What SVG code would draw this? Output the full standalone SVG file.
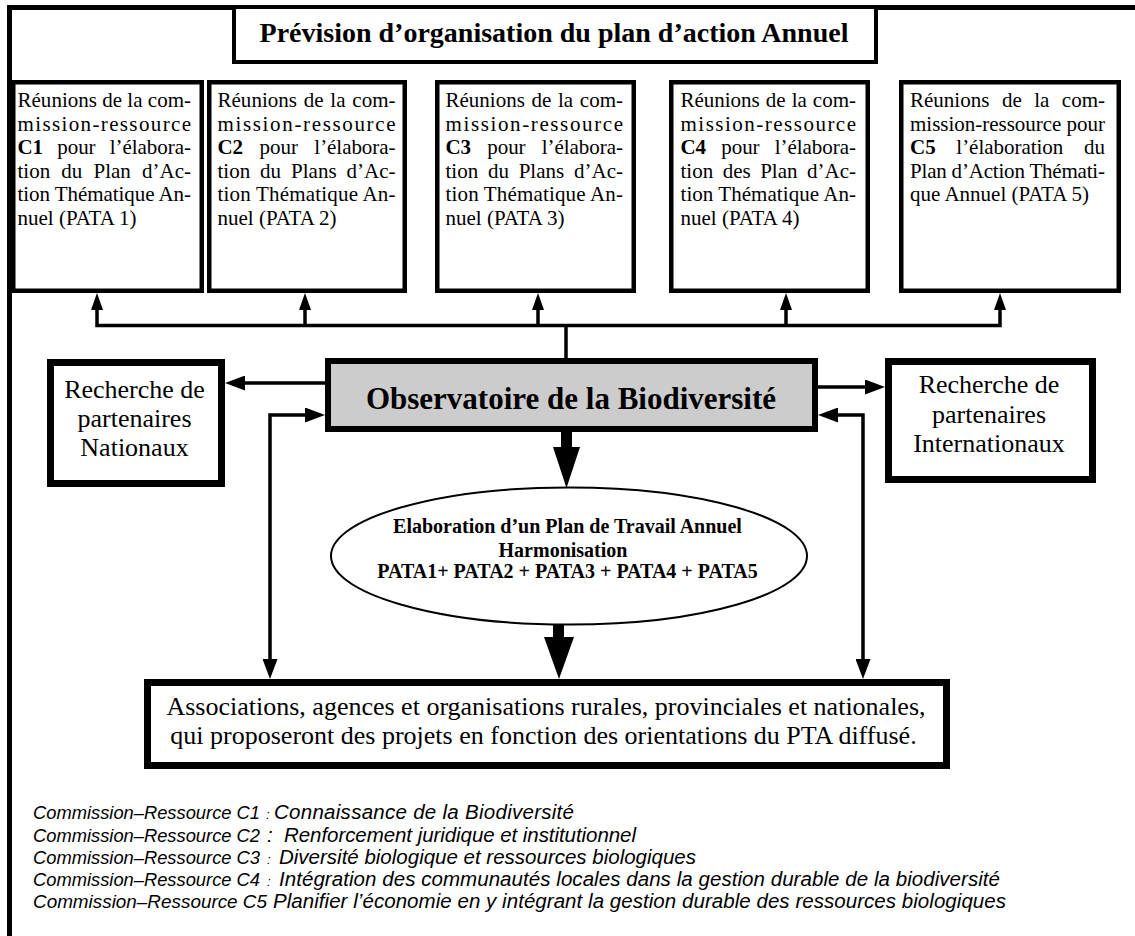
<svg xmlns="http://www.w3.org/2000/svg" width="1135" height="936" viewBox="0 0 1135 936">
<style>
.box{fill:#fff;stroke:#000;stroke-width:4.5}
.tbox{fill:#fff;stroke:#000;stroke-width:7}
.t{font-family:"Liberation Serif","Times New Roman",serif;fill:#000}
.bt{font-size:21px}
.b{font-weight:bold}
.conn{fill:none;stroke:#000;stroke-width:3.5;stroke-linejoin:miter}
.leg{font-family:"Liberation Sans",Arial,sans-serif;font-style:italic;fill:#000}
.pre{font-size:18.5px}
.rest{font-size:20.5px}
</style>
<defs>
<marker id="ah" viewBox="0 0 17 12" refX="2" refY="6" markerWidth="17" markerHeight="12" markerUnits="userSpaceOnUse" orient="auto-start-reverse"><path d="M0,0L17,6L0,12z" fill="#000"/></marker>
<marker id="ahL" viewBox="0 0 20 15" refX="2" refY="7.5" markerWidth="20" markerHeight="15" markerUnits="userSpaceOnUse" orient="auto-start-reverse"><path d="M0,0L20,7.5L0,15z" fill="#000"/></marker>
</defs>

<g id="frame">
<line x1="9.5" y1="5" x2="9.5" y2="936" stroke="#000" stroke-width="5"/>
<line x1="7" y1="7.5" x2="1135" y2="7.5" stroke="#000" stroke-width="5"/>
</g>

<g id="title">
<rect x="234" y="7" width="642" height="55" fill="#fff" stroke="#000" stroke-width="4"/>
<text class="t b" x="554" y="42" font-size="28" text-anchor="middle">Prévision d’organisation du plan d’action Annuel</text>
</g>

<g id="box1">
<rect class="box" x="13.25" y="82.25" width="188.5" height="208.5"/>
<g class="t bt">
<text x="17.5" y="107" textLength="173.5" lengthAdjust="spacing">Réunions de la com-</text>
<text x="17.5" y="130.5" textLength="173.5" lengthAdjust="spacing">mission-ressource</text>
<text x="17.5" y="154" textLength="173.5" lengthAdjust="spacing" word-spacing="9"><tspan class="b">C1</tspan> pour l’élabora-</text>
<text x="17.5" y="177.5" textLength="173.5" lengthAdjust="spacing" word-spacing="5.8">tion du Plan d’Ac-</text>
<text x="17.5" y="201" textLength="173.5" lengthAdjust="spacing">tion Thématique An-</text>
<text x="17.5" y="224.5">nuel (PATA 1)</text>
</g>
</g>

<g id="box2">
<rect class="box" x="209.25" y="82.25" width="195.5" height="208.5"/>
<g class="t bt">
<text x="217.5" y="107" textLength="178" lengthAdjust="spacing" word-spacing="1.5">Réunions de la com-</text>
<text x="217.5" y="130.5" textLength="178" lengthAdjust="spacing">mission-ressource</text>
<text x="217.5" y="154" textLength="178" lengthAdjust="spacing" word-spacing="11.3"><tspan class="b">C2</tspan> pour l’élabora-</text>
<text x="217.5" y="177.5" textLength="178" lengthAdjust="spacing" word-spacing="4.6">tion du Plans d’Ac-</text>
<text x="217.5" y="201" textLength="178" lengthAdjust="spacing">tion Thématique An-</text>
<text x="217.5" y="224.5">nuel (PATA 2)</text>
</g>
</g>

<g id="box3">
<rect class="box" x="437.25" y="82.25" width="196.5" height="208.5"/>
<g class="t bt">
<text x="445.5" y="107" textLength="177.5" lengthAdjust="spacing" word-spacing="1.4">Réunions de la com-</text>
<text x="445.5" y="130.5" textLength="177.5" lengthAdjust="spacing">mission-ressource</text>
<text x="445.5" y="154" textLength="177.5" lengthAdjust="spacing" word-spacing="11"><tspan class="b">C3</tspan> pour l’élabora-</text>
<text x="445.5" y="177.5" textLength="177.5" lengthAdjust="spacing" word-spacing="4.4">tion du Plans d’Ac-</text>
<text x="445.5" y="201" textLength="177.5" lengthAdjust="spacing">tion Thématique An-</text>
<text x="445.5" y="224.5">nuel (PATA 3)</text>
</g>
</g>

<g id="box4">
<rect class="box" x="671.25" y="82.25" width="196.5" height="208.5"/>
<g class="t bt">
<text x="680.5" y="107" textLength="175.5" lengthAdjust="spacing" word-spacing="0.8">Réunions de la com-</text>
<text x="680.5" y="130.5" textLength="175.5" lengthAdjust="spacing">mission-ressource</text>
<text x="680.5" y="154" textLength="175.5" lengthAdjust="spacing" word-spacing="10"><tspan class="b">C4</tspan> pour l’élabora-</text>
<text x="680.5" y="177.5" textLength="175.5" lengthAdjust="spacing" word-spacing="4.2">tion des Plan d’Ac-</text>
<text x="680.5" y="201" textLength="175.5" lengthAdjust="spacing">tion Thématique An-</text>
<text x="680.5" y="224.5">nuel (PATA 4)</text>
</g>
</g>

<g id="box5">
<rect class="box" x="901.25" y="82.25" width="217.5" height="208.5"/>
<g class="t bt">
<text x="910" y="107" textLength="195" lengthAdjust="spacing" word-spacing="7.2">Réunions de la com-</text>
<text x="910" y="130.5" textLength="195" lengthAdjust="spacing">mission-ressource pour</text>
<text x="910" y="154" textLength="195" lengthAdjust="spacing" word-spacing="15.5"><tspan class="b">C5</tspan> l’élaboration du</text>
<text x="910" y="177.5" textLength="195" lengthAdjust="spacing">Plan d’Action Thémati-</text>
<text x="910" y="201">que Annuel (PATA 5)</text>
</g>
</g>

<g id="observatoire">
<rect x="328" y="361" width="487" height="68" fill="#cccccc" stroke="#000" stroke-width="6"/>
<text class="t b" x="571" y="409" font-size="31" text-anchor="middle">Observatoire de la Biodiversité</text>
</g>

<g id="nationaux">
<rect class="tbox" x="50.5" y="362.5" width="171" height="121"/>
<g class="t" font-size="26" text-anchor="middle">
<text x="134.5" y="398">Recherche de</text>
<text x="134.5" y="427">partenaires</text>
<text x="134.5" y="456">Nationaux</text>
</g>
</g>

<g id="internationaux">
<rect class="tbox" x="888.5" y="361.5" width="204" height="118"/>
<g class="t" font-size="26" text-anchor="middle">
<text x="989" y="393">Recherche de</text>
<text x="989" y="423">partenaires</text>
<text x="989" y="452">Internationaux</text>
</g>
</g>

<g id="elaboration">
<ellipse cx="569" cy="556" rx="238" ry="68.5" fill="#fff" stroke="#000" stroke-width="2"/>
<g class="t b" font-size="20" text-anchor="middle">
<text x="567.5" y="533">Elaboration d’un Plan de Travail Annuel</text>
<text x="563" y="557">Harmonisation</text>
<text x="567.5" y="578">PATA1+ PATA2 + PATA3 + PATA4 + PATA5</text>
</g>
</g>

<g id="associations">
<rect class="tbox" x="147.5" y="682.5" width="799" height="83"/>
<g class="t" font-size="26" text-anchor="middle">
<text x="546" y="715">Associations, agences et organisations rurales, provinciales et nationales,</text>
<text x="543.5" y="744">qui proposeront des projets en fonction des orientations du PTA diffusé.</text>
</g>
</g>

<g id="connectors">
<path class="conn" d="M97,308V325.5H1000V308" marker-start="url(#ah)" marker-end="url(#ah)"/>
<path class="conn" d="M305,325.5V308" marker-end="url(#ah)"/>
<path class="conn" d="M538,325.5V308" marker-end="url(#ah)"/>
<path class="conn" d="M786,325.5V308" marker-end="url(#ah)"/>
<path class="conn" d="M566,358V325.5"/>
<path class="conn" d="M325,383H243" marker-end="url(#ahL)"/>
<path class="conn" d="M818,387H867" marker-end="url(#ahL)"/>
<path class="conn" d="M270,661V415H307" marker-start="url(#ahL)" marker-end="url(#ahL)"/>
<path class="conn" d="M863,661V415H836" marker-start="url(#ahL)" marker-end="url(#ahL)"/>
<polygon points="561,431 572,431 572,447 580,447 566.5,488 553,447 561,447" fill="#000"/>
<polygon points="553,624 564,624 564,637 574,637 559,679 544,637 553,637" fill="#000"/>
</g>

<g id="legend" class="leg">
<text class="pre" x="33" y="819" textLength="227" lengthAdjust="spacingAndGlyphs">Commission–Ressource C1</text>
<text x="266" y="819" font-size="13">:</text>
<text class="rest" x="274" y="819" textLength="300" lengthAdjust="spacing">Connaissance de la Biodiversité</text>
<text class="pre" x="33" y="842" textLength="227" lengthAdjust="spacingAndGlyphs">Commission–Ressource C2</text>
<text class="rest" x="267" y="842">:</text>
<text class="rest" x="284" y="842" textLength="352" lengthAdjust="spacing">Renforcement juridique et institutionnel</text>
<text class="pre" x="33" y="864" textLength="227" lengthAdjust="spacingAndGlyphs">Commission–Ressource C3</text>
<text x="267" y="864" font-size="13">:</text>
<text class="rest" x="279" y="864" textLength="417" lengthAdjust="spacing">Diversité biologique et ressources biologiques</text>
<text class="pre" x="33" y="886" textLength="227" lengthAdjust="spacingAndGlyphs">Commission–Ressource C4</text>
<text x="267" y="886" font-size="13">:</text>
<text class="rest" x="279" y="886" textLength="721" lengthAdjust="spacing">Intégration des communautés locales dans la gestion durable de la biodiversité</text>
<text class="pre" x="33" y="908" textLength="234" lengthAdjust="spacingAndGlyphs">Commission–Ressource C5</text>
<text class="rest" x="273" y="908" textLength="733" lengthAdjust="spacing">Planifier l’économie en y intégrant la gestion durable des ressources biologiques</text>
</g>
</svg>
